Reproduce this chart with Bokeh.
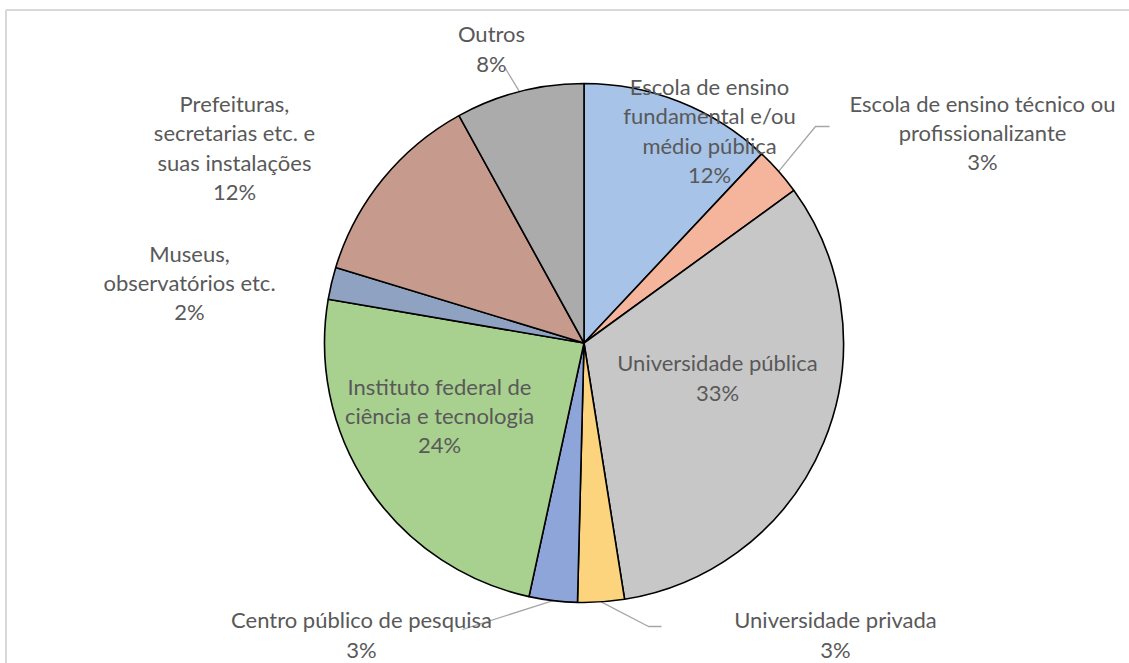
import numpy as np
from bokeh.plotting import figure
from bokeh.models import Range1d, ColumnDataSource
from bokeh.core.properties import value
from bokeh.embed import file_html
from bokeh.resources import INLINE

# ---------------- data ----------------
categories = [
    "Escola de ensino\nfundamental e/ou\nmédio pública",
    "Escola de ensino técnico ou\nprofissionalizante",
    "Universidade pública",
    "Universidade privada",
    "Centro público de pesquisa",
    "Instituto federal de\nciência e tecnologia",
    "Museus,\nobservatórios etc.",
    "Prefeituras,\nsecretarias etc. e\nsuas instalações",
    "Outros",
]
shares = [12.0, 3.0, 32.5, 2.9, 3.0, 24.3, 2.0, 12.3, 8.0]
pct_labels = ["12%", "3%", "33%", "3%", "3%", "24%", "2%", "12%", "8%"]
colors = ["#A7C3E8", "#F4B59C", "#C7C7C7", "#FDD47E", "#8EA5DA",
          "#A8D08F", "#8FA2C1", "#C69A8C", "#ABABAB"]

# ---------------- layout (screen pixels) ----------------
W, H = 1129, 663
CX, CY, R = 583.5, 342.5, 259.5
label_pos = [(709, 130), (982, 132), (717, 377), (835, 634), (361, 634),
             (439, 415), (189, 282), (234, 147), (491, 48)]
# leader lines: extra points after the rim point (None = no leader)
leaders = [None, [(815, 126), (829, 126)], None, [(648, 626), (661, 626)],
           [(462, 629)], None, None, None, [(505, 68)]]

p = figure(width=W, height=H, x_range=Range1d(0, W),
           y_range=Range1d(-H, 0), output_backend="svg",
           toolbar_location=None, min_border=0)
p.axis.visible = False
p.grid.visible = False
p.outline_line_color = None
p.background_fill_color = "white"

# chart frame (top and left edges visible)
p.line([5.5, W], [-9.5, -9.5], line_color="#D9D9D9", line_width=2)
p.line([5.5, 5.5], [-9.5, -H], line_color="#D9D9D9", line_width=2)

frac = np.array(shares) / np.sum(shares)
cum = np.concatenate([[0], np.cumsum(frac)])
start = np.pi / 2 - cum[:-1] * 2 * np.pi
end = np.pi / 2 - cum[1:] * 2 * np.pi
mid = (cum[:-1] + cum[1:]) / 2 * 2 * np.pi  # clockwise from top

# leader lines
for i, pts in enumerate(leaders):
    if pts is None:
        continue
    rx = CX + R * np.sin(mid[i])
    ry = CY - R * np.cos(mid[i])
    xs = [rx] + [q[0] for q in pts]
    ys = [-ry] + [-q[1] for q in pts]
    p.line(xs, ys, line_color="#A6A6A6", line_width=1.3)

src = ColumnDataSource(dict(start=start, end=end, color=colors))
p.wedge(x=CX, y=-CY, radius=R, start_angle="start", end_angle="end",
        direction="clock", fill_color="color", line_color="black",
        line_width=1.6, source=src)

texts = [c + "\n" + pc for c, pc in zip(categories, pct_labels)]
p.text(x=[q[0] for q in label_pos], y=[-q[1] for q in label_pos], text=texts,
       text_align="center", text_baseline="middle",
       text_font=value("Lato"), text_font_size="22px",
       text_color="#595959", text_line_height=1.08)

open("out.html", "w").write(file_html(p, INLINE))
